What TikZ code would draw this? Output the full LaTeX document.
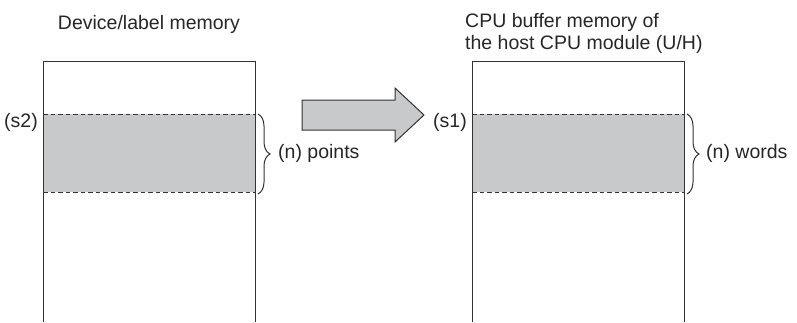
\documentclass[tikz,border=0pt]{standalone}
\usepackage{fontspec}
\setmainfont{Liberation Sans}
\usetikzlibrary{positioning,calc,decorations.pathreplacing}
\definecolor{areagray}{HTML}{C8C9CB}
\definecolor{linegray}{HTML}{333333}
\tikzset{
  memline/.style={draw=linegray, line width=1pt},
  bound/.style={draw=linegray, line width=0.9pt, dash pattern=on 4.5pt off 3pt},
  areabrace/.style={decorate, decoration={brace, amplitude=12pt}, draw=linegray, line width=1pt},
  lbl/.style={font=\fontsize{19.5}{22}\selectfont, text=black!85, inner sep=0pt},
}
\begin{document}
\begin{tikzpicture}[x=1pt,y=-1pt]
\useasboundingbox (0,0) rectangle (797,322);
% source: device/label memory
\fill[areagray] (43,114) rectangle (255,192);
\draw[bound] (43,114) -- (255,114) (43,192) -- (255,192);
\draw[memline] (43,322) -- (43,61) -- (255,61) -- (255,322);
\node[lbl, anchor=base] (srctitle) at (149,29) {Device/label memory};
\node[lbl, anchor=base east] (s2) at (38,127) {(s2)};
\coordinate (srctop) at (258,114);
\coordinate (srcbot) at (258,194);
\draw[areabrace] (srctop) -- (srcbot);
\node[lbl, anchor=west] (npoints) at (278,153) {(n) points};
% transfer arrow
\draw[memline, fill=areagray] (302,100) -- (395,100) -- (395,88) -- (424,115)
  -- (395,142) -- (395,130) -- (302,130) -- cycle;
% destination: CPU buffer memory
\fill[areagray] (472,114) rectangle (684,192);
\draw[bound] (472,114) -- (684,114) (472,192) -- (684,192);
\draw[memline] (472,322) -- (472,61) -- (684,61) -- (684,322);
\node[lbl, anchor=north west, align=left] (dsttitle) at (465,13)
  {CPU buffer memory of\\the host CPU module (U/H)};
\node[lbl, anchor=base east] (s1) at (467,127) {(s1)};
\coordinate (dsttop) at (687,114);
\coordinate (dstbot) at (687,194);
\draw[areabrace] (dsttop) -- (dstbot);
\node[lbl, anchor=west] (nwords) at (706,153) {(n) words};
\end{tikzpicture}
\end{document}
